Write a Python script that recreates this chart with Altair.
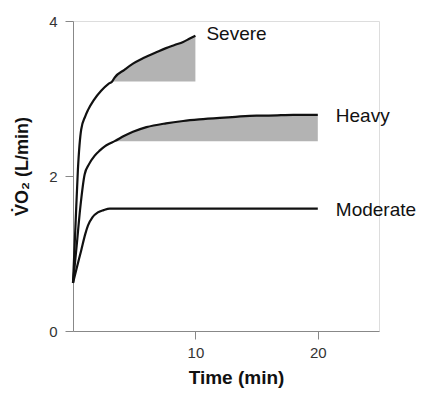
import altair as alt
import pandas as pd

# Oxygen uptake responses for three exercise intensity domains
severe_t = [0, 0.2, 0.4, 0.67, 1.0, 1.22, 1.7, 2.3, 2.9, 3.2, 3.4, 4.2, 4.9, 5.6, 6.3, 7.0, 7.6, 8.3, 9.0, 9.5, 10.0]
severe_v = [0.62, 1.35, 2.08, 2.6, 2.77, 2.85, 2.98, 3.1, 3.19, 3.22, 3.27, 3.37, 3.45, 3.51, 3.56, 3.61, 3.65, 3.69, 3.73, 3.77, 3.81]

heavy_t = [0, 0.3, 0.6, 0.95, 1.3, 1.76, 2.2, 2.57, 3.0, 3.4, 4.2, 4.9, 6.0, 7.6, 9.0, 10.3, 12.0, 13.0, 15.0, 16.0, 18.0, 20.0]
heavy_v = [0.62, 1.1, 1.6, 2.02, 2.15, 2.26, 2.33, 2.38, 2.42, 2.45, 2.52, 2.57, 2.63, 2.68, 2.71, 2.73, 2.75, 2.76, 2.78, 2.78, 2.79, 2.79]

moderate_t = [0, 0.33, 0.67, 1.0, 1.22, 1.6, 2.03, 2.5, 3.0, 5.0, 10.0, 15.0, 20.0]
moderate_v = [0.62, 0.83, 1.04, 1.25, 1.36, 1.47, 1.53, 1.56, 1.58, 1.58, 1.58, 1.58, 1.58]

# Slow-component regions: area between the curve and its level at onset
severe_slow_start = 3.2
heavy_slow_start = 3.4

x_ticks = [10, 20]
y_ticks = [0, 2, 4]

rows = []
for name, ts, vs in [("Severe", severe_t, severe_v),
                     ("Heavy", heavy_t, heavy_v),
                     ("Moderate", moderate_t, moderate_v)]:
    for t, v in zip(ts, vs):
        rows.append({"cond": name, "t": t, "v": v})
curves = pd.DataFrame(rows)


def slow_component(name, start):
    d = curves[(curves.cond == name) & (curves.t >= start)].copy()
    d["base"] = float(d.v.iloc[0])
    return d


shade = pd.concat([slow_component("Severe", severe_slow_start),
                   slow_component("Heavy", heavy_slow_start)])

ends = curves.groupby("cond").tail(1)

x_scale = alt.Scale(domain=[0, 25], nice=False)
y_scale = alt.Scale(domain=[0, 4], nice=False)

x_axis = alt.Axis(values=x_ticks, title="Time (min)", grid=False, format="d",
                  domainColor="#888888", tickColor="#888888", tickSize=8,
                  labelFontSize=15, labelColor="#333333", labelPadding=6,
                  labelFont="Liberation Sans",
                  titleFont="Liberation Sans", titleFontSize=19,
                  titleFontWeight="bold", titleColor="#111111",
                  titlePadding=8, titleX=163)
y_axis = alt.Axis(values=y_ticks, title="V\u0307O\u2082 (L/min)", grid=False, format="d",
                  domainColor="#888888", tickColor="#888888", tickSize=8,
                  labelFontSize=15, labelColor="#333333", labelPadding=8,
                  labelFont="Liberation Sans",
                  titleFont="Liberation Sans", titleFontSize=18,
                  titleFontWeight="bold", titleColor="#111111",
                  titleX=-42, titleY=145)

area = alt.Chart(shade).mark_area(color="#b3b3b3", opacity=1, interpolate="monotone").encode(
    x=alt.X("t:Q", scale=x_scale, axis=x_axis),
    y=alt.Y("v:Q", scale=y_scale, axis=y_axis),
    y2="base:Q",
    detail="cond:N",
)

lines = alt.Chart(curves).mark_line(color="#111111", strokeWidth=2.2, interpolate="monotone").encode(
    x=alt.X("t:Q", scale=x_scale),
    y=alt.Y("v:Q", scale=y_scale),
    detail="cond:N",
)

label_style = dict(align="left", baseline="middle", fontSize=19,
                   font="Liberation Sans", color="#111111")

sev_label = alt.Chart(ends[ends.cond == "Severe"]).mark_text(dx=11, dy=-2, **label_style).encode(
    x=alt.X("t:Q", scale=x_scale), y=alt.Y("v:Q", scale=y_scale), text="cond:N")
other_labels = alt.Chart(ends[ends.cond != "Severe"]).mark_text(dx=18, dy=1, **label_style).encode(
    x=alt.X("t:Q", scale=x_scale), y=alt.Y("v:Q", scale=y_scale), text="cond:N")

chart = alt.layer(area, lines, sev_label, other_labels).properties(
    width=306, height=310,
    autosize=alt.AutoSizeParams(type="none"),
    padding={"left": 73, "top": 21, "right": 42, "bottom": 67},
).configure_view(stroke=None).configure(background="white")

chart.save("out.html", embed_options={"renderer": "svg", "actions": False})
